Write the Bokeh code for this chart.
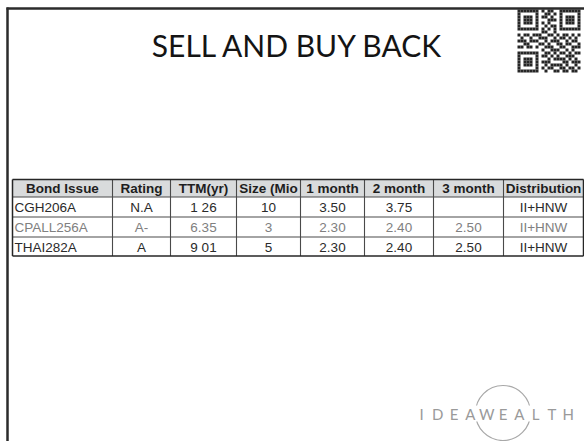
from bokeh.plotting import figure
from bokeh.models import Range1d, ColumnDataSource
from bokeh.core.properties import value
from bokeh.embed import file_html
from bokeh.resources import INLINE

# ---------------- data ----------------
title_text = "SELL AND BUY BACK"
headers = ["Bond Issue", "Rating", "TTM(yr)", "Size (Mio", "1 month", "2 month", "3 month", "Distribution"]
bond_issue = ["CGH206A", "CPALL256A", "THAI282A"]
rating = ["N.A", "A-", "A"]
ttm_yr = ["1 26", "6.35", "9 01"]
size_mio = ["10", "3", "5"]
month_1 = ["3.50", "2.30", "2.30"]
month_2 = ["3.75", "2.40", "2.40"]
month_3 = ["", "2.50", "2.50"]
distribution = ["II+HNW", "II+HNW", "II+HNW"]
logo_text = "IDEAWEALTH"
qr_rows = [
    "111111101011001111111",
    "100000100110101000001",
    "101110101101001011101",
    "101110100011101011101",
    "101110101010001011101",
    "100000100101101000001",
    "111111101010101111111",
    "000000001100100000000",
    "101101110011010110101",
    "010010011100101101010",
    "111011100101110010110",
    "001100011010011011001",
    "110110100111001100111",
    "000000001001110010100",
    "111111100110101101011",
    "100000101101010011100",
    "101110100010111101010",
    "101110101110000110111",
    "101110100101111010010",
    "100000101011001101101",
    "111111100100110110110",
]

# ---------------- layout ----------------
W, H = 584, 441
col_edges = [12, 112, 170, 236, 300, 364, 433, 503, 583]
row_edges = [179, 196.5, 216.5, 236.5, 255.5]
row_colors = ["#2a2a2a", "#808080", "#2a2a2a"]

p = figure(width=W, height=H, x_range=Range1d(0, W), y_range=Range1d(H, 0),
           output_backend="svg", toolbar_location=None, min_border=0)
p.axis.visible = False
p.grid.visible = False
p.outline_line_color = None
p.background_fill_color = "white"
p.border_fill_color = "white"

# page frame
p.segment(x0=[7, 6], y0=[7, 8], x1=[7, 600], y1=[450, 8], line_width=2.5, line_color="#2b2b2b")

# title
p.text(x=[297.5], y=[44], text=[title_text], text_font=value("Lato"), text_font_size="30px",
       text_align="center", text_baseline="middle", text_color="#141414")

# QR code
qx, qy, m = [], [], 3.0
qx0, qy0 = 517, 9
for r, row in enumerate(qr_rows):
    for c, ch in enumerate(row):
        if ch == "1":
            qx.append(qx0 + (c + 0.5) * m)
            qy.append(qy0 + (r + 0.5) * m)
p.rect(x=qx, y=qy, width=m, height=m, fill_color="#262626", line_color=None)

# table header fill
p.quad(left=col_edges[:-1], right=col_edges[1:], top=[row_edges[0]] * 8, bottom=[row_edges[1]] * 8,
       fill_color="#d9dbdc", line_color=None)

# grid lines
p.segment(x0=col_edges[1:-1], y0=[row_edges[0]] * 7, x1=col_edges[1:-1], y1=[row_edges[-1]] * 7,
          line_color="#4a4a4a", line_width=1.1)
p.segment(x0=[col_edges[0]] * 3, y0=row_edges[1:-1], x1=[col_edges[-1]] * 3, y1=row_edges[1:-1],
          line_color="#4a4a4a", line_width=1.1)
p.segment(x0=[col_edges[0], col_edges[0], col_edges[0], col_edges[-1]],
          y0=[row_edges[0], row_edges[-1], row_edges[0], row_edges[0]],
          x1=[col_edges[-1], col_edges[-1], col_edges[0], col_edges[-1]],
          y1=[row_edges[0], row_edges[-1], row_edges[-1], row_edges[-1]],
          line_color="#262626", line_width=1.5)

centers = [(col_edges[i] + col_edges[i + 1]) / 2 for i in range(8)]
hy = (row_edges[0] + row_edges[1]) / 2
p.text(x=centers, y=[hy] * 8, text=headers, text_font=value("Liberation Sans"), text_font_size="13.5px",
       text_font_style="bold", text_align="center", text_baseline="middle", text_color="#1e1e1e")

ry = [(row_edges[i] + row_edges[i + 1]) / 2 + 0.5 for i in range(1, 4)]
columns = [bond_issue, rating, ttm_yr, size_mio, month_1, month_2, month_3, distribution]

src_left = ColumnDataSource(dict(x=[col_edges[0] + 2] * 3, y=ry, t=bond_issue, c=row_colors))
p.text(x="x", y="y", text="t", text_color="c", source=src_left, text_font=value("Liberation Sans"),
       text_font_size="13.5px", text_align="left", text_baseline="middle")

xs, ys, ts, cs = [], [], [], []
for ci in range(1, 8):
    for ri in range(3):
        xs.append(centers[ci])
        ys.append(ry[ri])
        ts.append(columns[ci][ri])
        cs.append(row_colors[ri])
src_c = ColumnDataSource(dict(x=xs, y=ys, t=ts, c=cs))
p.text(x="x", y="y", text="t", text_color="c", source=src_c, text_font=value("Liberation Sans"),
       text_font_size="13.5px", text_align="center", text_baseline="middle")

# logo
p.circle(x=[502.5], y=[412.5], radius=27.5, fill_color=None, line_color="#a8a8a8", line_width=1.2)
p.quad(left=[414], right=[600], top=[405], bottom=[421], fill_color="white", line_color=None)
lx = [421 + i * 16.3 for i in range(len(logo_text))]
p.text(x=lx, y=[413] * len(logo_text), text=list(logo_text), text_font=value("Lato"),
       text_font_size="15px", text_align="center", text_baseline="middle", text_color="#9a9a9a")

open("out.html", "w").write(file_html(p, INLINE))
